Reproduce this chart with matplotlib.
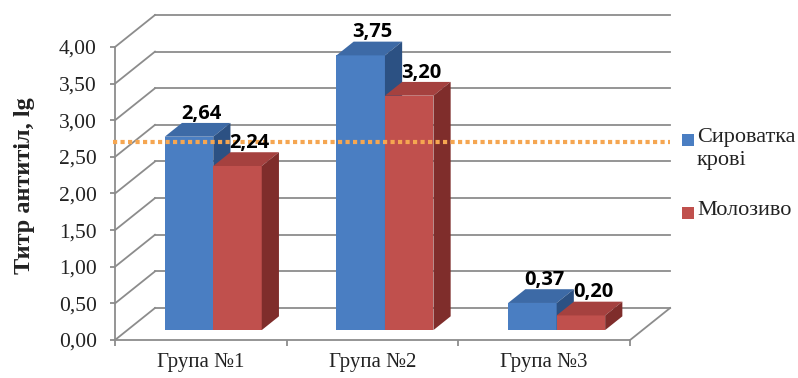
import matplotlib
matplotlib.use("Agg")
import matplotlib.pyplot as plt
from matplotlib.patches import Polygon, Rectangle
import numpy as np

# data
categories = ["Група №1", "Група №2", "Група №3"]
serum = [2.64, 3.75, 0.37]
colostrum = [2.24, 3.20, 0.20]
series_names = ["Сироватка\nкрові", "Молозиво"]
y_ticks = [0.0, 0.5, 1.0, 1.5, 2.0, 2.5, 3.0, 3.5, 4.0]
ref_level = 2.70

W, H = 798, 378
SERIF = "Liberation Serif"
LABEL_FONT = "Open Sans"
GRID = "#8c8c8c"

# colours: front, top, side
blue = ("#4a7ec2", "#3d6aa6", "#2c5183")
red = ("#c0504d", "#a5413f", "#7f2d2b")

fig = plt.figure(figsize=(W / 100, H / 100), dpi=100)
ax = fig.add_axes([0, 0, 1, 1])

# pixel geometry of the front plane
x0_px, y0_px = 115, 340
sx, sy = 171.7, 73.25
ax.set_xlim(-0.5 - x0_px / sx, -0.5 + (W - x0_px) / sx)
ax.set_ylim(-(H - y0_px) / sy, y0_px / sy)

DX, DY = 40 / sx, 32 / sy          # full depth of the box
f0, f1 = 0.31, 0.74                # bar front / back depth fractions
bw = 48.5 / sx

xr = len(categories) - 0.5
# back wall gridlines and left wall diagonals
for v in y_ticks:
    ax.plot([-0.5 + DX, xr + DX], [v + DY, v + DY], color=GRID, lw=1.3, zorder=1)
    ax.plot([-0.5, -0.5 + DX], [v, v + DY], color=GRID, lw=1.3, zorder=1)
ax.plot([xr, xr + DX], [0, DY], color=GRID, lw=1.3, zorder=1)


def draw_bar(xl, v, cols):
    b = f0 * DY
    ddx, ddy = (f1 - f0) * DX, (f1 - f0) * DY
    ax.bar(xl, v, width=bw, bottom=b, align="edge", color=cols[0], lw=0, zorder=2)
    ax.add_patch(Polygon([(xl, b + v), (xl + bw, b + v), (xl + bw + ddx, b + v + ddy),
                          (xl + ddx, b + v + ddy)], closed=True, color=cols[1], lw=0, zorder=2))
    ax.add_patch(Polygon([(xl + bw, b), (xl + bw + ddx, b + ddy), (xl + bw + ddx, b + v + ddy),
                          (xl + bw, b + v)], closed=True, color=cols[2], lw=0, zorder=2))
    ax.text(xl + bw / 2 + 12 / sx, b + v + 23 / sy, f"{v:.2f}".replace(".", ","),
            ha="center", va="center", fontsize=14.5, fontweight="bold",
            family=LABEL_FONT, color="black", zorder=6)


for i in range(len(categories)):
    c = i + f0 * DX
    draw_bar(c - bw, serum[i], blue)
    draw_bar(c, colostrum[i], red)

# reference line
ax.plot([-0.5 - 2 / sx, xr + DX], [ref_level, ref_level], color="#f5a651",
        lw=3.0, linestyle=(0, (1, 0.8)), dash_capstyle="butt", zorder=5)

# axes
for s in ["top", "right"]:
    ax.spines[s].set_visible(False)
ax.spines["left"].set_position(("data", -0.5))
ax.spines["left"].set_bounds(0, 4)
ax.spines["bottom"].set_position(("data", 0))
ax.spines["bottom"].set_bounds(-0.5, xr)
for s in ["left", "bottom"]:
    ax.spines[s].set_color(GRID)
    ax.spines[s].set_linewidth(1.3)

ax.set_yticks(y_ticks)
ax.set_yticklabels([f"{v:.2f}".replace(".", ",") for v in y_ticks])
ax.tick_params(axis="y", length=3.6, width=1.3, color=GRID, pad=9.4,
               labelsize=15.5, labelcolor="#222222")
ax.set_xticks(range(len(categories)))
ax.set_xticklabels(categories)
ax.set_xticks(np.arange(-0.5, len(categories), 1.0), minor=True)
ax.tick_params(axis="x", which="major", length=0, pad=9, labelsize=15, labelcolor="#222222")
ax.tick_params(axis="x", which="minor", length=4.5, width=1.3, color=GRID)
for t in ax.get_xticklabels() + ax.get_yticklabels():
    t.set_family(SERIF)

fig.text(25 / W, 1 - 186 / H, "Титр антитіл, lg", rotation=90, ha="center", va="center",
         family=SERIF, fontsize=17.5, fontweight="bold", color="#222222")

# legend
for (name, cols, yc) in [(series_names[0], blue, 140), (series_names[1], red, 213)]:
    fig.patches.append(Rectangle(((688 - 6) / W, 1 - (yc + 6) / H), 12 / W, 12 / H,
                                 transform=fig.transFigure, color=cols[0], lw=0))
    fig.text(697 / W, 1 - (yc - 12) / H, name, ha="left", va="top", family=SERIF,
             fontsize=16, color="#222222", linespacing=1.3)

fig.savefig("out.png", dpi=100)
